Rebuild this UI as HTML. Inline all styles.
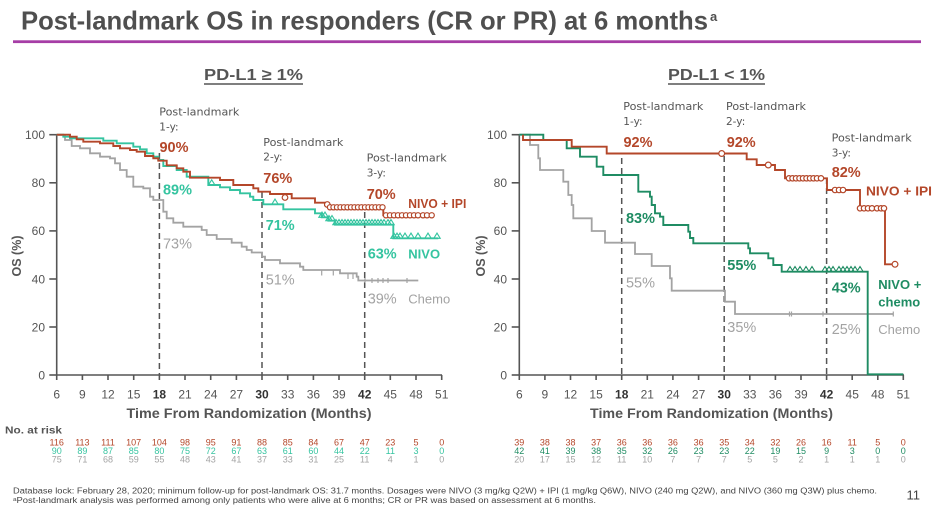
<!DOCTYPE html>
<html><head><meta charset="utf-8">
<style>
html,body{margin:0;padding:0;background:#fff;}
svg{display:block;}
text{font-family:"Liberation Sans","DejaVu Sans",sans-serif;}
.dj{font-family:"DejaVu Sans","Liberation Sans",sans-serif;}
</style></head>
<body>
<svg width="935" height="507" viewBox="0 0 935 507" xmlns="http://www.w3.org/2000/svg">
<rect width="935" height="507" fill="#fff"/>
<!-- Title -->
<text x="21" y="29.5" font-size="26" font-weight="bold" fill="#4f4f4f" textLength="687" lengthAdjust="spacingAndGlyphs">Post-landmark OS in responders (CR or PR) at 6 months</text>
<text x="710" y="21" font-size="13" font-weight="bold" fill="#4f4f4f">a</text>
<rect x="13" y="40.3" width="908" height="2.8" fill="#a63da6"/>

<!-- Panel headings -->
<text x="204" y="80" font-size="16" font-weight="bold" fill="#555" textLength="99" lengthAdjust="spacingAndGlyphs">PD-L1 ≥ 1%</text>
<line x1="204" y1="84" x2="303" y2="84" stroke="#555" stroke-width="1.5"/>
<text x="668" y="80" font-size="16" font-weight="bold" fill="#555" textLength="97" lengthAdjust="spacingAndGlyphs">PD-L1 &lt; 1%</text>
<line x1="668" y1="84" x2="765" y2="84" stroke="#555" stroke-width="1.5"/>

<!-- ================= LEFT CHART ================= -->
<g stroke="#555" stroke-width="1.6" fill="none">
<line x1="56.7" y1="134" x2="56.7" y2="375"/>
<line x1="56" y1="375" x2="442" y2="375"/>
<line x1="49.3" y1="134.7" x2="56.7" y2="134.7"/>
<line x1="49.3" y1="182.8" x2="56.7" y2="182.8"/>
<line x1="49.3" y1="230.9" x2="56.7" y2="230.9"/>
<line x1="49.3" y1="279" x2="56.7" y2="279"/>
<line x1="49.3" y1="327" x2="56.7" y2="327"/>
<line x1="49.3" y1="375" x2="56.7" y2="375"/>
<path d="M56.7 375v5M82.4 375v5M108 375v5M133.7 375v5M159.4 375v5M185 375v5M210.7 375v5M236.4 375v5M262 375v5M287.7 375v5M313.4 375v5M339 375v5M364.7 375v5M390.3 375v5M416 375v5M441.7 375v5"/>
</g>
<g font-size="12" fill="#555" text-anchor="end">
<text x="45" y="139">100</text><text x="45" y="187.1">80</text><text x="45" y="235.2">60</text>
<text x="45" y="283.3">40</text><text x="45" y="331.3">20</text><text x="45" y="379.3">0</text>
</g>
<g font-size="12" fill="#555" text-anchor="middle">
<text x="56.7" y="398.6">6</text><text x="82.4" y="398.6">9</text><text x="108" y="398.6">12</text><text x="133.7" y="398.6">15</text>
<text x="159.4" y="398.6" font-weight="bold" fill="#333">18</text><text x="185" y="398.6">21</text><text x="210.7" y="398.6">24</text><text x="236.4" y="398.6">27</text>
<text x="262" y="398.6" font-weight="bold" fill="#333">30</text><text x="287.7" y="398.6">33</text><text x="313.4" y="398.6">36</text><text x="339" y="398.6">39</text>
<text x="364.7" y="398.6" font-weight="bold" fill="#333">42</text><text x="390.3" y="398.6">45</text><text x="416" y="398.6">48</text><text x="441.7" y="398.6">51</text>
</g>
<text x="126.5" y="418" font-size="13.5" font-weight="bold" fill="#555" textLength="245" lengthAdjust="spacingAndGlyphs">Time From Randomization (Months)</text>
<text transform="translate(21,256) rotate(-90)" font-size="12.5" font-weight="bold" fill="#555" text-anchor="middle">OS (%)</text>

<!-- dashed landmark lines -->
<g stroke="#555" stroke-width="1.5" stroke-dasharray="6 4" fill="none">
<line x1="159.4" y1="153" x2="159.4" y2="375"/>
<line x1="262" y1="192" x2="262" y2="375"/>
<line x1="364.7" y1="212" x2="364.7" y2="375"/>
</g>

<!-- Chemo left -->
<path fill="none" stroke="#a3a3a3" stroke-width="1.8" d="M56.7 135H65V140H71.7V146H80V148.3H90V153.3H100V156.7H110V158.3H115V163.3H120V170H126.7V176.7H133.3V186.7H143.3V188.3H150V196.7H153.3V200H163.3V211.7H166.7V218.3H173.3V222.7H183.3V226.7H201.7V230H206.7V235H216.7V239H231.7V242.7H241.7V246.7H246.7V250H251.7V252.5H262V256.7H265V260H280V263.3H300V266.7H303.3V270H340V273.3H356.7V276.7H358.3V280.5H418.3"/>
<g stroke="#a3a3a3" stroke-width="1.2"><path d="M321.7 270.5v5M333.3 270.5v5M348 274v5M353 274v5M365 278v5M372 278v5M378 278v5M383 278v5M388 278v5M407 278v5"/></g>

<!-- NIVO left (teal) -->
<path fill="none" stroke="#35c4a0" stroke-width="1.9" d="M56.7 134.7H63.3V136.7H70V138.3H103.3V140.7H116.7V143.3H133.3V146.7H140V149.3H146.7V153.3H153.3V156.7H158.3V160H163.3V166H176.7V170H186.7V176.7H208.3V185H220V187.3H230V190H240V193.3H250V196.7H253.3V200H263.3V204.3H283.3V209.3H315V213.3H321.7V217.3H328.3V220.7H335V224.7H393.3V238.3H438.3"/>
<g fill="none" stroke="#35c4a0" stroke-width="1.1">
<path d="M208.5 185h6.4l-3.2-5.2zM271.8 204.3h6.4l-3.2-5.2zM318.8 217.3h6.4l-3.2-5.2zM321.8 217.3h6.4l-3.2-5.2zM325.8 220.7h6.4l-3.2-5.2zM328.8 220.7h6.4l-3.2-5.2z"/>
<path d="M332.8 224.7h6.4l-3.2-5.2zM335.8 224.7h6.4l-3.2-5.2zM338.8 224.7h6.4l-3.2-5.2zM341.8 224.7h6.4l-3.2-5.2zM344.8 224.7h6.4l-3.2-5.2zM347.8 224.7h6.4l-3.2-5.2zM350.8 224.7h6.4l-3.2-5.2zM353.8 224.7h6.4l-3.2-5.2zM356.8 224.7h6.4l-3.2-5.2zM359.8 224.7h6.4l-3.2-5.2zM362.8 224.7h6.4l-3.2-5.2zM365.8 224.7h6.4l-3.2-5.2zM368.8 224.7h6.4l-3.2-5.2zM371.8 224.7h6.4l-3.2-5.2zM374.8 224.7h6.4l-3.2-5.2zM377.8 224.7h6.4l-3.2-5.2zM380.8 224.7h6.4l-3.2-5.2zM384.8 224.7h6.4l-3.2-5.2zM387.8 224.7h6.4l-3.2-5.2z"/>
<path d="M390.8 238.3h6.4l-3.2-5.2zM393.8 238.3h6.4l-3.2-5.2zM396.8 238.3h6.4l-3.2-5.2zM401.8 238.3h6.4l-3.2-5.2zM407.8 238.3h6.4l-3.2-5.2zM414.8 238.3h6.4l-3.2-5.2zM424.8 238.3h6.4l-3.2-5.2zM433.8 238.3h6.4l-3.2-5.2z"/>
</g>

<!-- NIVO+IPI left (orange) -->
<path fill="none" stroke="#b4472a" stroke-width="1.9" d="M56.7 134.7H70V136.7H76.7V139.3H83.3V141.7H100V143.3H113.3V146H120V148.3H130V150H136.7V151.7H145V156H153.3V158.3H158.3V160.7H166.7V165.3H176.7V168.3H183.3V171.7H190V177.7H220V180H233.3V185H253.3V188.3H258.3V191.7H270V194H291.7V198.3H315V202.7H325V205H330V207.3H383.3V215.3H431.7"/>
<g fill="#fff" stroke="#b4472a" stroke-width="1.2">
<circle cx="285" cy="197.5" r="2.8"/><circle cx="327.3" cy="204.5" r="2.8"/>
<circle cx="330" cy="207.3" r="2.6"/><circle cx="333.5" cy="207.3" r="2.6"/><circle cx="337" cy="207.3" r="2.6"/><circle cx="340.5" cy="207.3" r="2.6"/><circle cx="344" cy="207.3" r="2.6"/><circle cx="347.5" cy="207.3" r="2.6"/><circle cx="351" cy="207.3" r="2.6"/><circle cx="354.5" cy="207.3" r="2.6"/><circle cx="358" cy="207.3" r="2.6"/><circle cx="361.5" cy="207.3" r="2.6"/><circle cx="365" cy="207.3" r="2.6"/><circle cx="368.5" cy="207.3" r="2.6"/><circle cx="372" cy="207.3" r="2.6"/><circle cx="375.5" cy="207.3" r="2.6"/><circle cx="379" cy="207.3" r="2.6"/><circle cx="382.5" cy="207.3" r="2.6"/>
<circle cx="386" cy="215.3" r="2.6"/><circle cx="390" cy="215.3" r="2.6"/><circle cx="394" cy="215.3" r="2.6"/><circle cx="398" cy="215.3" r="2.6"/><circle cx="402" cy="215.3" r="2.6"/><circle cx="406" cy="215.3" r="2.6"/><circle cx="410" cy="215.3" r="2.6"/><circle cx="414" cy="215.3" r="2.6"/><circle cx="418" cy="215.3" r="2.6"/><circle cx="423" cy="215.3" r="2.6"/><circle cx="427" cy="215.3" r="2.6"/><circle cx="431.7" cy="215.3" r="2.6"/>
</g>

<!-- Left labels -->
<g class="dj" font-size="10.5" fill="#555">
<text class="dj" x="159.3" y="115.5" textLength="80" lengthAdjust="spacingAndGlyphs">Post-landmark</text>
<text class="dj" x="159.3" y="130.4">1-y:</text>
<text class="dj" x="263.3" y="146" textLength="80" lengthAdjust="spacingAndGlyphs">Post-landmark</text>
<text class="dj" x="263.3" y="160.5">2-y:</text>
<text class="dj" x="366.7" y="161.5" textLength="80" lengthAdjust="spacingAndGlyphs">Post-landmark</text>
<text class="dj" x="366.7" y="176.5">3-y:</text>
</g>
<g font-size="14.5" font-weight="bold">
<text x="159.5" y="151.8" fill="#b4472a" textLength="29" lengthAdjust="spacingAndGlyphs">90%</text>
<text x="263.3" y="182.8" fill="#b4472a" textLength="29" lengthAdjust="spacingAndGlyphs">76%</text>
<text x="366.7" y="199.2" fill="#b4472a" textLength="29" lengthAdjust="spacingAndGlyphs">70%</text>
<text x="163" y="194.4" fill="#35c4a0" textLength="29" lengthAdjust="spacingAndGlyphs">89%</text>
<text x="265.7" y="230.2" fill="#35c4a0" textLength="29" lengthAdjust="spacingAndGlyphs">71%</text>
<text x="367.7" y="258.5" fill="#35c4a0" textLength="29" lengthAdjust="spacingAndGlyphs">63%</text>
</g>
<g font-size="14.5" fill="#a3a3a3">
<text x="163" y="248.5" textLength="29" lengthAdjust="spacingAndGlyphs">73%</text>
<text x="265.7" y="284.5" textLength="29" lengthAdjust="spacingAndGlyphs">51%</text>
<text x="367.7" y="303.5" textLength="29" lengthAdjust="spacingAndGlyphs">39%</text>
</g>
<text x="408.3" y="208" font-size="13" font-weight="bold" fill="#b4472a" textLength="58" lengthAdjust="spacingAndGlyphs">NIVO + IPI</text>
<text x="408.3" y="258.3" font-size="13" font-weight="bold" fill="#35c4a0">NIVO</text>
<text x="408.3" y="303.3" font-size="13" fill="#a3a3a3">Chemo</text>

<!-- ================= RIGHT CHART ================= -->
<g stroke="#555" stroke-width="1.6" fill="none">
<line x1="519.3" y1="134" x2="519.3" y2="375"/>
<line x1="518.6" y1="375" x2="904" y2="375"/>
<line x1="511.7" y1="134.7" x2="519.3" y2="134.7"/>
<line x1="511.7" y1="182.8" x2="519.3" y2="182.8"/>
<line x1="511.7" y1="230.9" x2="519.3" y2="230.9"/>
<line x1="511.7" y1="279" x2="519.3" y2="279"/>
<line x1="511.7" y1="327" x2="519.3" y2="327"/>
<line x1="511.7" y1="375" x2="519.3" y2="375"/>
<path d="M519.3 375v5M544.9 375v5M570.5 375v5M596.1 375v5M621.7 375v5M647.3 375v5M672.9 375v5M698.6 375v5M724.2 375v5M749.8 375v5M775.4 375v5M801 375v5M826.6 375v5M852.2 375v5M877.8 375v5M903.3 375v5"/>
</g>
<g font-size="12" fill="#555" text-anchor="end">
<text x="507" y="139">100</text><text x="507" y="187.1">80</text><text x="507" y="235.2">60</text>
<text x="507" y="283.3">40</text><text x="507" y="331.3">20</text><text x="507" y="379.3">0</text>
</g>
<g font-size="12" fill="#555" text-anchor="middle">
<text x="519.3" y="398.6">6</text><text x="544.9" y="398.6">9</text><text x="570.5" y="398.6">12</text><text x="596.1" y="398.6">15</text>
<text x="621.7" y="398.6" font-weight="bold" fill="#333">18</text><text x="647.3" y="398.6">21</text><text x="672.9" y="398.6">24</text><text x="698.6" y="398.6">27</text>
<text x="724.2" y="398.6" font-weight="bold" fill="#333">30</text><text x="749.8" y="398.6">33</text><text x="775.4" y="398.6">36</text><text x="801" y="398.6">39</text>
<text x="826.6" y="398.6" font-weight="bold" fill="#333">42</text><text x="852.2" y="398.6">45</text><text x="877.8" y="398.6">48</text><text x="903.3" y="398.6">51</text>
</g>
<text x="590" y="418" font-size="13.5" font-weight="bold" fill="#555" textLength="243" lengthAdjust="spacingAndGlyphs">Time From Randomization (Months)</text>
<text transform="translate(485,256) rotate(-90)" font-size="12.5" font-weight="bold" fill="#555" text-anchor="middle">OS (%)</text>

<g stroke="#555" stroke-width="1.5" stroke-dasharray="6 4" fill="none">
<line x1="621.7" y1="158" x2="621.7" y2="375"/>
<line x1="724.2" y1="156" x2="724.2" y2="375"/>
<line x1="826.6" y1="178" x2="826.6" y2="375"/>
</g>

<!-- Chemo right -->
<path fill="none" stroke="#a3a3a3" stroke-width="1.8" d="M519.3 134.7H530V145H538.3V158.3H540V170H563.3V181.7H568.3V195H571.7V205H573.3V218.3H591.7V231H605V242.7H635V254H651.7V266H670V278.3H671.7V290.7H725V301.7H735V314H893.3"/>
<g stroke="#a3a3a3" stroke-width="1.2"><path d="M789.5 311.5v5M791.5 311.5v5M823 311.5v5M893.3 311.5v5"/></g>

<!-- NIVO+chemo right (green) -->
<path fill="none" stroke="#1f8c63" stroke-width="1.9" d="M519.3 134.7H543.3V140H566.7V148.3H580V156.7H596.7V166.7H603.3V175H638.3V191.7H650V196.7H651.7V205H655V213.3H660V216.7H663.3V225H688.3V231.7H690V238H693.3V243.3H748.3V248.3H750V253.3H768.3V258.3H773.3V265H781.7V271.7H867.7V374.3H903.3"/>
<g fill="none" stroke="#1f8c63" stroke-width="1.1">
<path d="M786.8 271.7h6.4l-3.2-5.2zM791.8 271.7h6.4l-3.2-5.2zM796.8 271.7h6.4l-3.2-5.2zM802.8 271.7h6.4l-3.2-5.2zM808.8 271.7h6.4l-3.2-5.2z"/>
<path d="M821.8 271.7h6.4l-3.2-5.2zM825.8 271.7h6.4l-3.2-5.2zM829.8 271.7h6.4l-3.2-5.2zM835.8 271.7h6.4l-3.2-5.2zM839.8 271.7h6.4l-3.2-5.2zM843.8 271.7h6.4l-3.2-5.2zM847.8 271.7h6.4l-3.2-5.2zM851.8 271.7h6.4l-3.2-5.2zM856.8 271.7h6.4l-3.2-5.2z"/>
</g>

<!-- NIVO+IPI right (orange) -->
<path fill="none" stroke="#b4472a" stroke-width="1.9" d="M523 134.7V140H571.7V146.7H606.7V153.5H746.7V159.3H756.7V165H775V170H785V178.3H827V190H860V208.3H885V264.3H895"/>
<g fill="#fff" stroke="#b4472a" stroke-width="1.2">
<circle cx="721.7" cy="153.5" r="2.9"/><circle cx="768.3" cy="165" r="2.9"/>
<circle cx="789" cy="178.3" r="2.7"/><circle cx="792.5" cy="178.3" r="2.7"/><circle cx="796" cy="178.3" r="2.7"/><circle cx="799.5" cy="178.3" r="2.7"/><circle cx="803" cy="178.3" r="2.7"/><circle cx="806.5" cy="178.3" r="2.7"/><circle cx="810" cy="178.3" r="2.7"/><circle cx="813.5" cy="178.3" r="2.7"/><circle cx="817" cy="178.3" r="2.7"/><circle cx="821" cy="178.3" r="2.7"/>
<circle cx="835" cy="190" r="2.7"/><circle cx="839" cy="190" r="2.7"/><circle cx="843" cy="190" r="2.7"/>
<circle cx="860" cy="208.3" r="2.7"/><circle cx="864" cy="208.3" r="2.7"/><circle cx="868" cy="208.3" r="2.7"/><circle cx="872" cy="208.3" r="2.7"/><circle cx="877" cy="208.3" r="2.7"/><circle cx="881" cy="208.3" r="2.7"/><circle cx="884" cy="208.3" r="2.7"/>
<circle cx="895" cy="264.3" r="2.9"/>
</g>

<!-- Right labels -->
<g font-size="10.5" fill="#555">
<text class="dj" x="623.3" y="109.8" textLength="80" lengthAdjust="spacingAndGlyphs">Post-landmark</text>
<text class="dj" x="623.3" y="124.8">1-y:</text>
<text class="dj" x="726" y="109.8" textLength="80" lengthAdjust="spacingAndGlyphs">Post-landmark</text>
<text class="dj" x="726" y="124.8">2-y:</text>
<text class="dj" x="831.7" y="141.5" textLength="80" lengthAdjust="spacingAndGlyphs">Post-landmark</text>
<text class="dj" x="831.7" y="156.5">3-y:</text>
</g>
<g font-size="14.5" font-weight="bold">
<text x="623.5" y="146.8" fill="#b4472a" textLength="29" lengthAdjust="spacingAndGlyphs">92%</text>
<text x="726.7" y="146.8" fill="#b4472a" textLength="29" lengthAdjust="spacingAndGlyphs">92%</text>
<text x="831.7" y="176.8" fill="#b4472a" textLength="29" lengthAdjust="spacingAndGlyphs">82%</text>
<text x="626" y="222.8" fill="#1f8c63" textLength="29" lengthAdjust="spacingAndGlyphs">83%</text>
<text x="727.3" y="270.2" fill="#1f8c63" textLength="29" lengthAdjust="spacingAndGlyphs">55%</text>
<text x="831.7" y="292.5" fill="#1f8c63" textLength="29" lengthAdjust="spacingAndGlyphs">43%</text>
</g>
<g font-size="14.5" fill="#a3a3a3">
<text x="626" y="287.5" textLength="29" lengthAdjust="spacingAndGlyphs">55%</text>
<text x="727.3" y="331.8" textLength="29" lengthAdjust="spacingAndGlyphs">35%</text>
<text x="831.7" y="334.2" textLength="29" lengthAdjust="spacingAndGlyphs">25%</text>
</g>
<text x="866" y="195.7" font-size="13" font-weight="bold" fill="#b4472a" textLength="66" lengthAdjust="spacingAndGlyphs">NIVO + IPI</text>
<text x="878.3" y="289" font-size="13" font-weight="bold" fill="#1f8c63">NIVO +</text>
<text x="878.3" y="306.4" font-size="13" font-weight="bold" fill="#1f8c63">chemo</text>
<text x="878.3" y="334" font-size="13" fill="#a3a3a3">Chemo</text>

<!-- ================= AT RISK ================= -->
<text x="5" y="433.5" font-size="10.5" font-weight="bold" fill="#555" textLength="57" lengthAdjust="spacingAndGlyphs">No. at risk</text>
<g font-size="9" text-anchor="middle">
<g fill="#b4472a">
<text x="56.7" y="445.5">116</text><text x="82.4" y="445.5">113</text><text x="108" y="445.5">111</text><text x="133.7" y="445.5">107</text><text x="159.4" y="445.5">104</text><text x="185" y="445.5">98</text><text x="210.7" y="445.5">95</text><text x="236.4" y="445.5">91</text><text x="262" y="445.5">88</text><text x="287.7" y="445.5">85</text><text x="313.4" y="445.5">84</text><text x="339" y="445.5">67</text><text x="364.7" y="445.5">47</text><text x="390.3" y="445.5">23</text><text x="416" y="445.5">5</text><text x="441.7" y="445.5">0</text>
</g>
<g fill="#35c4a0">
<text x="56.7" y="454.2">90</text><text x="82.4" y="454.2">89</text><text x="108" y="454.2">87</text><text x="133.7" y="454.2">85</text><text x="159.4" y="454.2">80</text><text x="185" y="454.2">75</text><text x="210.7" y="454.2">72</text><text x="236.4" y="454.2">67</text><text x="262" y="454.2">63</text><text x="287.7" y="454.2">61</text><text x="313.4" y="454.2">60</text><text x="339" y="454.2">44</text><text x="364.7" y="454.2">22</text><text x="390.3" y="454.2">11</text><text x="416" y="454.2">3</text><text x="441.7" y="454.2">0</text>
</g>
<g fill="#a3a3a3">
<text x="56.7" y="462.5">75</text><text x="82.4" y="462.5">71</text><text x="108" y="462.5">68</text><text x="133.7" y="462.5">59</text><text x="159.4" y="462.5">55</text><text x="185" y="462.5">48</text><text x="210.7" y="462.5">43</text><text x="236.4" y="462.5">41</text><text x="262" y="462.5">37</text><text x="287.7" y="462.5">33</text><text x="313.4" y="462.5">31</text><text x="339" y="462.5">25</text><text x="364.7" y="462.5">11</text><text x="390.3" y="462.5">4</text><text x="416" y="462.5">1</text><text x="441.7" y="462.5">0</text>
</g>
<g fill="#b4472a">
<text x="519.3" y="445.5">39</text><text x="544.9" y="445.5">38</text><text x="570.5" y="445.5">38</text><text x="596.1" y="445.5">37</text><text x="621.7" y="445.5">36</text><text x="647.3" y="445.5">36</text><text x="672.9" y="445.5">36</text><text x="698.6" y="445.5">36</text><text x="724.2" y="445.5">35</text><text x="749.8" y="445.5">34</text><text x="775.4" y="445.5">32</text><text x="801" y="445.5">26</text><text x="826.6" y="445.5">16</text><text x="852.2" y="445.5">11</text><text x="877.8" y="445.5">5</text><text x="903.3" y="445.5">0</text>
</g>
<g fill="#1f8c63">
<text x="519.3" y="454.2">42</text><text x="544.9" y="454.2">41</text><text x="570.5" y="454.2">39</text><text x="596.1" y="454.2">38</text><text x="621.7" y="454.2">35</text><text x="647.3" y="454.2">32</text><text x="672.9" y="454.2">26</text><text x="698.6" y="454.2">23</text><text x="724.2" y="454.2">23</text><text x="749.8" y="454.2">22</text><text x="775.4" y="454.2">19</text><text x="801" y="454.2">15</text><text x="826.6" y="454.2">9</text><text x="852.2" y="454.2">3</text><text x="877.8" y="454.2">0</text><text x="903.3" y="454.2">0</text>
</g>
<g fill="#a3a3a3">
<text x="519.3" y="462.5">20</text><text x="544.9" y="462.5">17</text><text x="570.5" y="462.5">15</text><text x="596.1" y="462.5">12</text><text x="621.7" y="462.5">11</text><text x="647.3" y="462.5">10</text><text x="672.9" y="462.5">7</text><text x="698.6" y="462.5">7</text><text x="724.2" y="462.5">7</text><text x="749.8" y="462.5">5</text><text x="775.4" y="462.5">5</text><text x="801" y="462.5">2</text><text x="826.6" y="462.5">1</text><text x="852.2" y="462.5">1</text><text x="877.8" y="462.5">1</text><text x="903.3" y="462.5">0</text>
</g>
</g>

<!-- Footnotes -->
<text x="13" y="493.3" font-size="8" fill="#444" textLength="864" lengthAdjust="spacingAndGlyphs">Database lock: February 28, 2020; minimum follow-up for post-landmark OS: 31.7 months. Dosages were NIVO (3 mg/kg Q2W) + IPI (1 mg/kg Q6W), NIVO (240 mg Q2W), and NIVO (360 mg Q3W) plus chemo.</text>
<text x="13" y="502.8" font-size="8" fill="#444" textLength="583" lengthAdjust="spacingAndGlyphs">ᵃPost-landmark analysis was performed among only patients who were alive at 6 months; CR or PR was based on assessment at 6 months.</text>
<text x="906.5" y="499.5" font-size="13" fill="#444">11</text>
</svg>
</body></html>
